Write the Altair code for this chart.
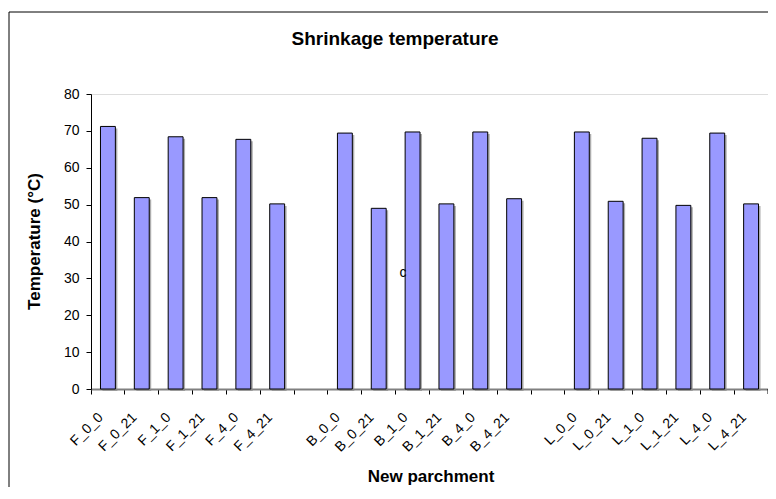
import altair as alt
import pandas as pd

categories = ["F_0_0", "F_0_21", "F_1_0", "F_1_21", "F_4_0", "F_4_21", " ",
              "B_0_0", "B_0_21", "B_1_0", "B_1_21", "B_4_0", "B_4_21", "  ",
              "L_0_0", "L_0_21", "L_1_0", "L_1_21", "L_4_0", "L_4_21"]
temperatures = [71.2, 51.9, 68.4, 51.9, 67.7, 50.2, None,
                69.4, 49.0, 69.7, 50.2, 69.7, 51.6, None,
                69.7, 50.9, 68.0, 49.8, 69.4, 50.2]
y_ticks = [0, 10, 20, 30, 40, 50, 60, 70, 80]
chart_title = "Shrinkage temperature"
x_title = "New parchment"
y_title = "Temperature (°C)"
stray_text = "c"

FONT = "Liberation Sans"
W, H = 677, 295

df = pd.DataFrame({"cat": categories, "temp": temperatures})

xscale = alt.Scale(domain=categories, paddingInner=0, paddingOuter=0)
yscale = alt.Scale(domain=[0, 80], nice=False)

x_axis = alt.Axis(title=None, bandPosition=0, labelAngle=-45,
                  labelAlign="right", labelBaseline="middle",
                  labelOffset=-7, labelPadding=21, tickSize=5,
                  tickColor="black", domainColor="#808080",
                  domainWidth=2, labelFont=FONT, labelFontSize=14,
                  labelColor="black", labelOverlap=False,
                  labelBound=False)
y_axis = alt.Axis(values=y_ticks, title=None, grid=False, tickSize=5,
                  labelPadding=7, domainColor="black",
                  tickColor="black", labelFont=FONT, labelFontSize=14,
                  labelColor="black")

x_enc = alt.X("cat:N", sort=categories, scale=xscale, axis=x_axis)
y_enc = alt.Y("temp:Q", scale=yscale, axis=y_axis)

base = alt.Chart(df)

shadow = base.mark_bar(width=alt.RelativeBandSize(0.44), color="#8a8a8a",
                       opacity=0.7, xOffset=2, x2Offset=2, yOffset=2).encode(
    x=x_enc, y=y_enc)

bars = base.mark_bar(width=alt.RelativeBandSize(0.44), fill="#9999FF",
                     stroke="black", strokeWidth=1).encode(x=x_enc, y=y_enc)

end_tick = alt.Chart(pd.DataFrame({"cat": [categories[-1]]})).mark_rule(
    color="black", strokeWidth=1).encode(
    x=alt.X("cat:N", bandPosition=1, sort=categories, scale=xscale,
            axis=x_axis),
    y=alt.value(H),
    y2=alt.value(H + 5),
)

border = alt.Chart(pd.DataFrame({"a": [0]})).mark_rect(
    fillOpacity=0, stroke="black", strokeWidth=1).encode(
    x=alt.value(-82), x2=alt.value(720), y=alt.value(-82), y2=alt.value(440)
)

title_t = alt.Chart(pd.DataFrame({"t": [chart_title]})).mark_text(
    font=FONT, fontSize=19, fontWeight="bold", color="black",
    align="center", baseline="middle").encode(
    x=alt.value(304), y=alt.value(-55), text="t:N")

ytitle_t = alt.Chart(pd.DataFrame({"t": [y_title]})).mark_text(
    font=FONT, fontSize=17, fontWeight="bold", color="black", angle=270,
    align="center", baseline="middle").encode(
    x=alt.value(-56), y=alt.value(H / 2), text="t:N")

xtitle_t = alt.Chart(pd.DataFrame({"t": [x_title]})).mark_text(
    font=FONT, fontSize=17, fontWeight="bold", color="black",
    align="center", baseline="alphabetic").encode(
    x=alt.value(340), y=alt.value(H + 93), text="t:N")

stray_t = alt.Chart(pd.DataFrame({"t": [stray_text]})).mark_text(
    font=FONT, fontSize=14, color="black",
    align="center", baseline="middle").encode(
    x=alt.value(312), y=alt.value(179), text="t:N")

chart = alt.layer(border, shadow, bars, end_tick, title_t, ytitle_t,
                  xtitle_t, stray_t).properties(
    width=W, height=H,
    autosize=alt.AutoSizeParams(type="none"),
    padding={"left": 83, "top": 86, "right": 0, "bottom": 98},
).configure_view(stroke="transparent", strokeWidth=0).configure(
    background="white")

chart.save("out.html", embed_options={"renderer": "svg", "actions": False})
